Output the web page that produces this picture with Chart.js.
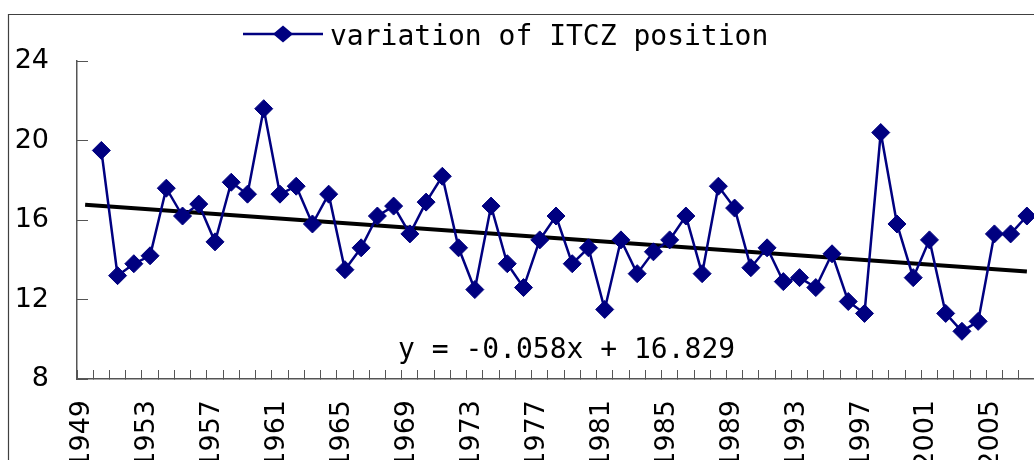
<!DOCTYPE html>
<html>
<head>
<meta charset="utf-8">
<script src="https://cdn.jsdelivr.net/npm/chart.js@4/dist/chart.umd.min.js"></script>
<style>
  html, body { margin: 0; padding: 0; background: #fff; overflow: hidden; }
  #wrap { width: 1034px; height: 460px; overflow: hidden; }
</style>
</head>
<body>
<div id="wrap">
<!-- the original chart is cropped on the right, so the canvas runs a little past the window -->
<canvas id="itczChart" width="1045" height="460"></canvas>
</div>
<script>
// years on the category axis (1949 has no value)
const years = ['1949', '1950', '1951', '1952', '1953', '1954', '1955', '1956', '1957', '1958',
  '1959', '1960', '1961', '1962', '1963', '1964', '1965', '1966', '1967', '1968',
  '1969', '1970', '1971', '1972', '1973', '1974', '1975', '1976', '1977', '1978',
  '1979', '1980', '1981', '1982', '1983', '1984', '1985', '1986', '1987', '1988',
  '1989', '1990', '1991', '1992', '1993', '1994', '1995', '1996', '1997', '1998',
  '1999', '2000', '2001', '2002', '2003', '2004', '2005', '2006', '2007'];

// ITCZ position
const itczPosition = [null, 19.5, 13.2, 13.8, 14.2, 17.6, 16.2, 16.8, 14.9, 17.9,
  17.3, 21.6, 17.3, 17.7, 15.8, 17.3, 13.5, 14.6, 16.2, 16.7,
  15.3, 16.9, 18.2, 14.6, 12.5, 16.7, 13.8, 12.6, 15.0, 16.2,
  13.8, 14.6, 11.5, 15.0, 13.3, 14.4, 15.0, 16.2, 13.3, 17.7,
  16.6, 13.6, 14.6, 12.9, 13.1, 12.6, 14.3, 11.9, 11.3, 20.4,
  15.8, 13.1, 15.0, 11.3, 10.4, 10.9, 15.3, 15.3, 16.2];

// linear trend end points (y = -0.058x + 16.829 at x = 1 and x = 59)
const trendPoints = [{ x: '1949', y: 16.771 }, { x: '2007', y: 13.407 }];

const yTicks = [8, 12, 16, 20, 24];
const legendText = 'variation of ITCZ position';
const equationText = 'y = -0.058x + 16.829';

const navy = '#000080';

// outer frame, legend and the equation label
const decorations = {
  id: 'decorations',
  beforeDraw(chart) {
    const ctx = chart.ctx;
    ctx.save();
    ctx.fillStyle = '#fff';
    ctx.fillRect(0, 0, chart.width, chart.height);
    ctx.strokeStyle = '#404040';
    ctx.lineWidth = 1.2;
    ctx.beginPath();
    ctx.moveTo(8.5, chart.height);
    ctx.lineTo(8.5, 14.5);
    ctx.lineTo(chart.width, 14.5);
    ctx.stroke();
    ctx.restore();
  },
  afterDraw(chart) {
    const ctx = chart.ctx;
    ctx.save();
    // legend symbol
    ctx.strokeStyle = navy;
    ctx.lineWidth = 2.5;
    ctx.beginPath();
    ctx.moveTo(243, 34);
    ctx.lineTo(323, 34);
    ctx.stroke();
    ctx.fillStyle = navy;
    ctx.beginPath();
    ctx.moveTo(273, 34);
    ctx.lineTo(283, 25.5);
    ctx.lineTo(293, 34);
    ctx.lineTo(283, 42.5);
    ctx.closePath();
    ctx.fill();
    // legend text
    ctx.fillStyle = '#000';
    ctx.font = '28px "DejaVu Sans Mono"';
    ctx.textBaseline = 'alphabetic';
    ctx.textAlign = 'left';
    ctx.fillText(legendText, 330, 45);
    // trend equation
    ctx.fillText(equationText, 398, 358);
    ctx.restore();
  }
};

const ctx = document.getElementById('itczChart').getContext('2d');
const itczChart = new Chart(ctx, {
  type: 'line',
  data: {
    labels: years,
    datasets: [{
      label: legendText,
      data: itczPosition,
      borderColor: navy,
      backgroundColor: navy,
      borderWidth: 2.5,
      pointStyle: 'rectRot',
      pointRadius: 9,
      pointBorderWidth: 1,
      pointBorderColor: navy,
      pointBackgroundColor: navy,
      tension: 0,
      spanGaps: false
    }, {
      label: 'trend',
      data: trendPoints,
      borderColor: '#000',
      borderWidth: 4,
      pointRadius: 0,
      tension: 0
    }]
  },
  options: {
    responsive: false,
    animation: false,
    layout: { padding: { top: 61, right: 0, bottom: 0, left: 0 } },
    plugins: {
      legend: { display: false },
      tooltip: { enabled: false }
    },
    scales: {
      x: {
        type: 'category',
        offset: true,
        grid: { offset: true, drawOnChartArea: false, tickLength: -9, color: '#555', lineWidth: 1 },
        border: { color: '#555', width: 1.5 },
        ticks: {
          autoSkip: false,
          minRotation: 90,
          maxRotation: 90,
          padding: 30,
          labelOffset: -3,
          color: '#000',
          font: { family: 'DejaVu Sans', size: 27 },
          callback: (value, index) => index % 4 === 0 ? years[index] : ''
        },
        afterFit: s => { s.height = 81; s.paddingLeft = 0; s.paddingRight = 0; }
      },
      y: {
        min: yTicks[0],
        max: yTicks[yTicks.length - 1],
        afterBuildTicks: s => { s.ticks = yTicks.map(v => ({ value: v })); },
        grid: { drawOnChartArea: false, tickLength: -11, color: '#555', lineWidth: 1 },
        border: { color: '#555', width: 1.5 },
        ticks: {
          padding: 39,
          color: '#000',
          font: { family: 'DejaVu Sans', size: 27 }
        },
        afterFit: s => { s.width = 77; s.paddingTop = 0; s.paddingBottom = 0; }
      }
    }
  },
  plugins: [decorations]
});
</script>
</body>
</html>
